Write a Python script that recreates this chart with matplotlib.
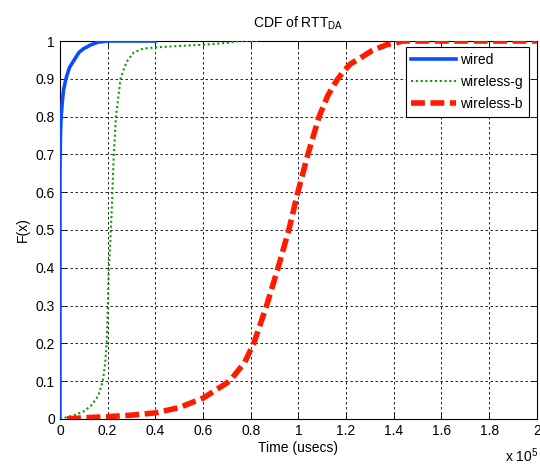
import numpy as np
import matplotlib.pyplot as plt

plt.rcParams['font.family'] = ['Liberation Sans', 'DejaVu Sans']
plt.rcParams['mathtext.fontset'] = 'custom'
plt.rcParams['mathtext.rm'] = 'Liberation Sans'

# (time in usecs, cumulative fraction)
wired_t = [0, 0, 200, 500, 1000, 1500, 2500, 4000, 6000, 8000, 10000, 13000, 16000, 20000, 40000]
wired_f = [0, 0.65, 0.75, 0.8, 0.84, 0.87, 0.9, 0.93, 0.95, 0.97, 0.98, 0.99, 0.997, 1, 1]

wg_t = [0, 3000, 6000, 10000, 13000, 16000, 18000, 19000, 19600, 20100, 20500, 21000,
        21700, 22600, 23500, 25400, 27000, 28500, 31000, 35000, 40000, 50000, 60000,
        70000, 75000, 83000]
wg_f = [0, 0.005, 0.01, 0.02, 0.035, 0.06, 0.1, 0.15, 0.2, 0.3, 0.4, 0.45,
        0.55, 0.7, 0.8, 0.9, 0.93, 0.95, 0.97, 0.98, 0.983, 0.987, 0.99,
        0.995, 1.0, 1.0]

wb_t = [3000, 10000, 20000, 30000, 40000, 50000, 60000, 65000, 70000, 72500, 77500,
        81300, 86700, 91500, 96000, 99800, 104000, 108700, 112300, 116000, 119000,
        122000, 126000, 131000, 137000, 144000, 200000]
wb_f = [0, 0.003, 0.006, 0.01, 0.016, 0.03, 0.055, 0.075, 0.095, 0.11, 0.15,
        0.2, 0.3, 0.4, 0.5, 0.6, 0.7, 0.8, 0.855, 0.895, 0.92,
        0.94, 0.955, 0.975, 0.99, 1.0, 1.0]

xticks = [0, 20000, 40000, 60000, 80000, 100000, 120000, 140000, 160000, 180000, 200000]
xticklabels = ['0', '0.2', '0.4', '0.6', '0.8', '1', '1.2', '1.4', '1.6', '1.8', '2']
yticks = [0, 0.1, 0.2, 0.3, 0.4, 0.5, 0.6, 0.7, 0.8, 0.9, 1]
yticklabels = ['0', '0.1', '0.2', '0.3', '0.4', '0.5', '0.6', '0.7', '0.8', '0.9', '1']

fig = plt.figure(figsize=(5.4, 4.66), dpi=100)
ax = fig.add_axes([0.111, 0.101, 0.883, 0.811])

ax.plot(wired_t, wired_f, color='#0a4dff', lw=2.6, label='wired', zorder=4)
ax.plot(wg_t, wg_f, color='#0c9a0c', lw=1.5, linestyle=(0, (1, 1.3)), label='wireless-g', zorder=3)
ax.plot(wb_t, wb_f, color='#ff1a00', lw=4, linestyle=(0, (2.5, 1.0)), label='wireless-b', zorder=3)

ax.set_xlim(0, 200000)
ax.set_ylim(0, 1)
ax.set_xticks(xticks)
ax.set_xticklabels(xticklabels)
ax.set_yticks(yticks)
ax.set_yticklabels(yticklabels)
ax.tick_params(direction='in', top=True, right=True, labelsize=10, length=4, width=0.6)
ax.grid(True, color='black', linestyle=(0, (3, 3)), linewidth=0.6)
for s in ax.spines.values():
    s.set_linewidth(0.8)

ax.set_title(r'CDF of RTT$_{\mathregular{DA}}$', fontsize=10, pad=10)
ax.set_xlabel('Time (usecs)', fontsize=10, labelpad=2)
ax.set_ylabel('F(x)', fontsize=10)
fig.text(0.935, 0.008, r'x 10$^{\mathregular{5}}$', fontsize=10)

leg = ax.legend(loc='upper right', bbox_to_anchor=(0.983, 0.984), borderaxespad=0,
                fontsize=10, fancybox=False, framealpha=1, edgecolor='black',
                handlelength=3.2, handletextpad=0.35, labelspacing=0.6)
leg.get_frame().set_linewidth(0.8)

plt.savefig('out.png')
